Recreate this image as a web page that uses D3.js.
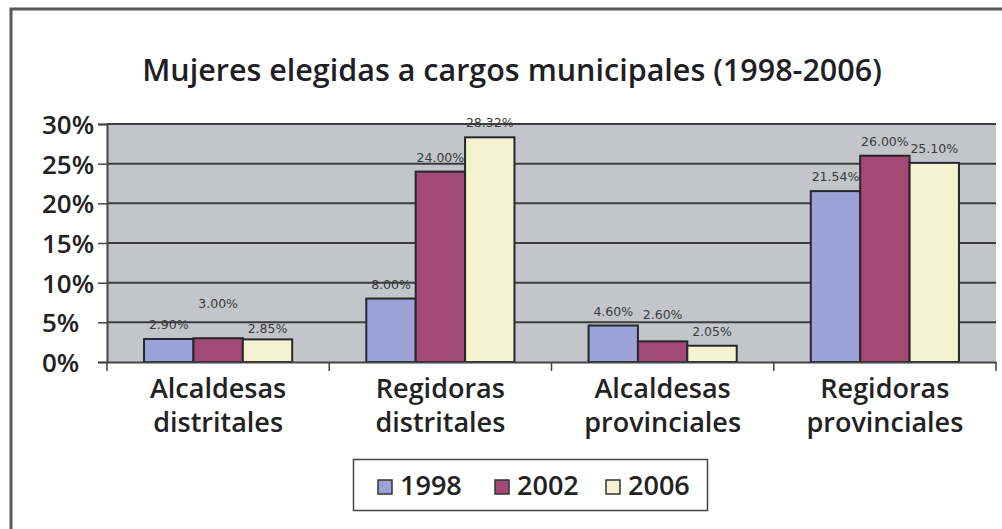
<!DOCTYPE html>
<html>
<head>
<meta charset="utf-8">
<script src="https://cdn.jsdelivr.net/npm/d3@7"></script>
<style>
  body { margin: 0; background: #fff; }
  svg { display: block; }
</style>
</head>
<body>
<svg id="chart" width="1002" height="529"></svg>
<script>
//============ data =========//
var categories = ['Alcaldesas distritales', 'Regidoras distritales', 'Alcaldesas provinciales', 'Regidoras provinciales'];
var years = ['1998', '2002', '2006'];
var values1998 = [2.90, 8.00, 4.60, 21.54];
var values2002 = [3.00, 24.00, 2.60, 26.00];
var values2006 = [2.85, 28.32, 2.05, 25.10];
var yTicks = [0, 5, 10, 15, 20, 25, 30];
var yTickLabels = ['0%', '5%', '10%', '15%', '20%', '25%', '30%'];

var colors = ['#9aa2d6', '#a34a74', '#f4f2d0'];
var fontFam = '"Open Sans", "Noto Sans", sans-serif';

// a couple of labels were pushed up by hand in the original
var labelNudge = { '2002|0': 20, '2002|2': 12, '2006|0': -4 };

var series = [values1998, values2002, values2006];

//margins / plot box
var plot = {left: 107, right: 996, top: 124, bottom: 362};

var svg = d3.select('#chart');

// outer frame (only top + left show in the picture)
svg.append('path')
  .attr('d', 'M11,529 L11,9 L1002,9')
  .attr('fill', 'none')
  .attr('stroke', '#5a5a5a')
  .attr('stroke-width', 3);

// title
svg.append('text')
  .attr('x', 512)
  .attr('y', 81)
  .attr('text-anchor', 'middle')
  .style('font-family', fontFam)
  .style('font-size', '30.5px')
  .style('font-weight', 600)
  .style('fill', '#1e1e24')
  .text('Mujeres elegidas a cargos municipales (1998-2006)');

// scales
var x0 = d3.scaleBand()
  .domain(categories)
  .range([plot.left, plot.right])
  .paddingInner(0)
  .paddingOuter(0);

var x1 = d3.scaleBand()
  .domain(years)
  .range([0, x0.bandwidth()])
  .paddingInner(0)
  .paddingOuter(0.75);

var y = d3.scaleLinear()
  .domain([0, 30])
  .range([plot.bottom, plot.top]);

// plot area background
svg.append('rect')
  .attr('x', plot.left)
  .attr('y', plot.top)
  .attr('width', plot.right - plot.left)
  .attr('height', plot.bottom - plot.top)
  .attr('fill', '#c3c5ca');

// gridlines
svg.append('g')
  .selectAll('line')
  .data(yTicks.filter(function(d) { return d > 0; }))
  .enter().append('line')
  .attr('x1', plot.left)
  .attr('x2', plot.right)
  .attr('y1', function(d) { return y(d); })
  .attr('y2', function(d) { return y(d); })
  .attr('stroke', '#3c3c3c')
  .attr('stroke-width', 2);

// y axis
var yAxis = d3.axisLeft(y)
  .tickValues(yTicks)
  .tickSize(9)
  .tickFormat(function(d, i) { return yTickLabels[i]; });

var gy = svg.append('g')
  .attr('transform', 'translate(' + plot.left + ',0)')
  .call(yAxis);
gy.select('.domain').attr('stroke', '#444').attr('stroke-width', 2);
gy.selectAll('.tick line').attr('stroke', '#444').attr('stroke-width', 1.5);
gy.selectAll('.tick text')
  .attr('x', 42 - plot.left)
  .attr('text-anchor', 'start')
  .attr('dy', '0.36em')
  .style('font-family', fontFam)
  .style('font-size', '26px')
  .style('font-weight', 600)
  .style('fill', '#222');

// bars
var groups = svg.append('g')
  .selectAll('g')
  .data(categories)
  .enter().append('g')
  .attr('transform', function(d) { return 'translate(' + x0(d) + ',0)'; });

groups.selectAll('rect')
  .data(function(d, ci) {
    return years.map(function(yr, si) { return {year: yr, si: si, ci: ci, value: series[si][ci]}; });
  })
  .enter().append('rect')
  .attr('x', function(d) { return x1(d.year); })
  .attr('y', function(d) { return y(d.value); })
  .attr('width', x1.bandwidth())
  .attr('height', function(d) { return y(0) - y(d.value); })
  .attr('fill', function(d) { return colors[d.si]; })
  .attr('stroke', '#26262e')
  .attr('stroke-width', 2);

// value labels
groups.selectAll('text.val')
  .data(function(d, ci) {
    return years.map(function(yr, si) { return {year: yr, si: si, ci: ci, value: series[si][ci]}; });
  })
  .enter().append('text')
  .attr('class', 'val')
  .attr('x', function(d) { return x1(d.year) + x1.bandwidth() / 2; })
  .attr('y', function(d) {
    var nudge = labelNudge[d.year + '|' + d.ci] || 0;
    return y(d.value) - 10 - nudge;
  })
  .attr('text-anchor', 'middle')
  .style('font-family', '"DejaVu Sans", sans-serif')
  .style('font-size', '12.5px')
  .style('fill', '#3a3a3a')
  .text(function(d) { return d.value.toFixed(2) + '%'; });

// x axis
var xAxis = d3.axisBottom(x0).tickSize(0).tickFormat('');
var gx = svg.append('g')
  .attr('transform', 'translate(0,' + plot.bottom + ')')
  .call(xAxis);
gx.select('.domain').attr('stroke', '#444').attr('stroke-width', 2);

// tick marks between categories
var bounds = categories.map(function(c) { return x0(c); }).concat([plot.right]);
gx.selectAll('line.sep')
  .data(bounds)
  .enter().append('line')
  .attr('class', 'sep')
  .attr('x1', function(d) { return d; })
  .attr('x2', function(d) { return d; })
  .attr('y1', 0)
  .attr('y2', 9)
  .attr('stroke', '#444')
  .attr('stroke-width', 1.5);

// category labels (two lines)
var catText = svg.append('g')
  .selectAll('text')
  .data(categories)
  .enter().append('text')
  .attr('x', function(d) { return x0(d) + x0.bandwidth() / 2; })
  .attr('y', 398)
  .attr('text-anchor', 'middle')
  .style('font-family', fontFam)
  .style('font-size', '27px')
  .style('font-weight', 600)
  .style('fill', '#222');

catText.selectAll('tspan')
  .data(function(d) { return d.split(' '); })
  .enter().append('tspan')
  .attr('x', function() { return d3.select(this.parentNode).attr('x'); })
  .attr('dy', function(d, i) { return i === 0 ? 0 : 34; })
  .text(function(d) { return d; });

// legend
var legend = svg.append('g');
legend.append('rect')
  .attr('x', 353.5)
  .attr('y', 459.5)
  .attr('width', 354)
  .attr('height', 51)
  .attr('fill', '#fff')
  .attr('stroke', '#444')
  .attr('stroke-width', 1.5);

var legX = [378, 495, 606];
var item = legend.selectAll('g.item')
  .data(years)
  .enter().append('g')
  .attr('class', 'item')
  .attr('transform', function(d, i) { return 'translate(' + legX[i] + ',0)'; });

item.append('rect')
  .attr('x', 0)
  .attr('y', 480)
  .attr('width', 14)
  .attr('height', 14)
  .attr('fill', function(d, i) { return colors[i]; })
  .attr('stroke', '#333')
  .attr('stroke-width', 1.5);

item.append('text')
  .attr('x', 22)
  .attr('y', 495)
  .style('font-family', fontFam)
  .style('font-size', '27px')
  .style('font-weight', 600)
  .style('fill', '#222')
  .text(function(d) { return d; });
</script>
</body>
</html>
